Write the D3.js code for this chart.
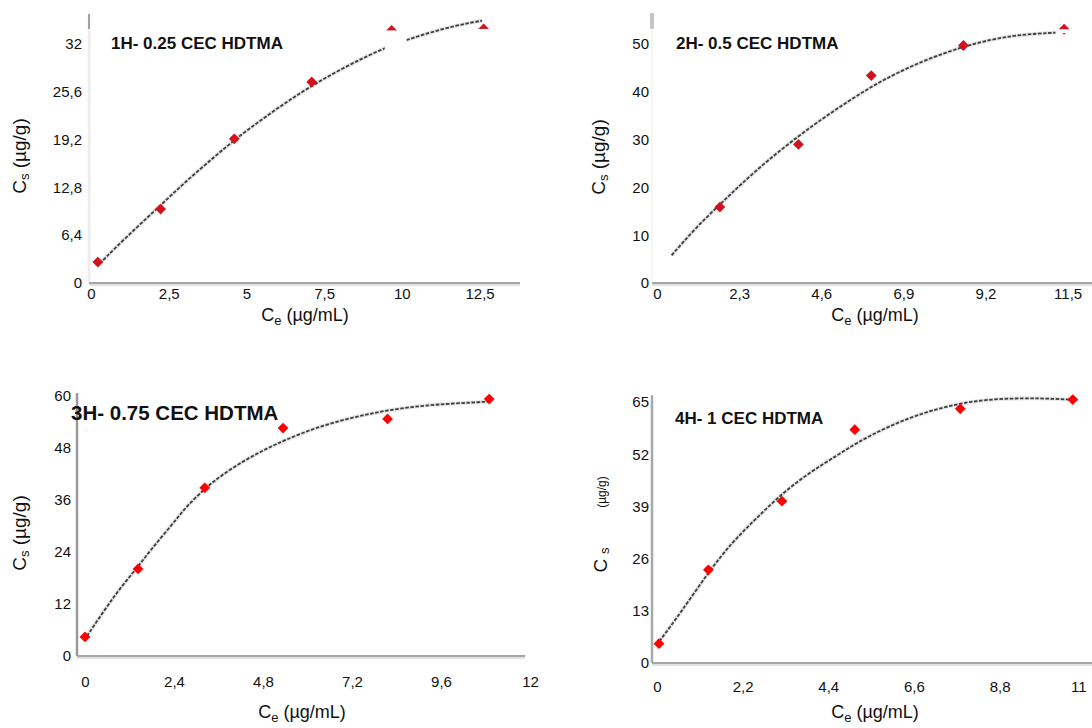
<!DOCTYPE html>
<html>
<head>
<meta charset="utf-8">
<script src="https://cdnjs.cloudflare.com/ajax/libs/d3/7.8.5/d3.min.js"></script>
<style>
  body { margin: 0; background: #fff; }
  text { font-family: "Liberation Sans", Arial, sans-serif; fill: #111; }
</style>
</head>
<body>
<div id="chart"></div>
<script>
// ---- data ----

// 1H - 0.25 CEC HDTMA
var p1X = [0.22, 2.24, 4.61, 7.1, 9.67, 12.63];
var p1Y = [2.8, 9.9, 19.3, 26.9, 33.8, 34.0];
var p1FitX = [0.28, 0.73, 1.51, 2.24, 3.0, 3.97, 4.75, 5.53, 6.32, 7.1, 7.99, 8.89, 9.7, 10.5, 11.3, 12.13, 12.58];
var p1FitY = [2.6, 4.5, 7.6, 10.4, 13.4, 16.9, 19.6, 22.0, 24.3, 26.4, 28.5, 30.4, 31.9, 33.0, 34.0, 34.8, 35.1];
var p1XTicks = [0, 2.5, 5, 7.5, 10, 12.5];
var p1XLabels = ["0", "2,5", "5", "7,5", "10", "12,5"];
var p1YTicks = [0, 6.4, 12.8, 19.2, 25.6, 32];
var p1YLabels = ["0", "6,4", "12,8", "19,2", "25,6", "32"];

// 2H - 0.5 CEC HDTMA
var p2X = [1.76, 3.96, 6.0, 8.58, 11.4];
var p2Y = [15.9, 29.0, 43.4, 49.7, 53.1];
var p2FitX = [0.41, 1.09, 1.76, 2.34, 3.12, 3.99, 4.67, 5.35, 6.03, 6.7, 7.58, 8.55, 9.32, 10.0, 10.68, 11.16];
var p2FitY = [5.8, 11.6, 16.4, 20.6, 25.8, 30.9, 34.6, 38.0, 41.2, 43.9, 46.9, 49.4, 50.9, 51.8, 52.2, 52.4];
var p2XTicks = [0, 2.3, 4.6, 6.9, 9.2, 11.5];
var p2XLabels = ["0", "2,3", "4,6", "6,9", "9,2", "11,5"];
var p2YTicks = [0, 10, 20, 30, 40, 50];
var p2YLabels = ["0", "10", "20", "30", "40", "50"];

// 3H - 0.75 CEC HDTMA
var p3X = [0.0, 1.43, 3.23, 5.34, 8.16, 10.9];
var p3Y = [4.4, 20.1, 38.8, 52.6, 54.7, 59.3];
var p3FitX = [0.05, 0.56, 0.94, 1.43, 1.78, 2.34, 2.72, 3.23, 3.66, 4.31, 4.88, 5.44, 6.19, 7.13, 8.06, 9.0, 9.94, 10.88];
var p3FitY = [4.6, 11.0, 15.6, 20.6, 24.6, 30.2, 34.4, 38.6, 41.6, 45.2, 47.8, 50.0, 52.6, 54.9, 56.6, 57.7, 58.3, 58.7];
var p3XTicks = [0, 2.4, 4.8, 7.2, 9.6, 12];
var p3XLabels = ["0", "2,4", "4,8", "7,2", "9,6", "12"];
var p3YTicks = [0, 12, 24, 36, 48, 60];
var p3YLabels = ["0", "12", "24", "36", "48", "60"];

// 4H - 1 CEC HDTMA
var p4X = [0.05, 1.32, 3.21, 5.08, 7.79, 10.68];
var p4Y = [4.8, 23.2, 40.3, 58.1, 63.3, 65.6];
var p4FitX = [0.06, 0.57, 1.32, 1.93, 2.57, 3.21, 3.94, 4.58, 5.12, 5.85, 6.67, 7.58, 8.4, 9.41, 10.23, 10.6];
var p4FitY = [5.4, 12.0, 22.6, 30.1, 36.2, 42.2, 47.6, 51.4, 54.8, 58.5, 61.8, 64.3, 65.6, 66.0, 65.8, 65.6];
var p4XTicks = [0, 2.2, 4.4, 6.6, 8.8, 11];
var p4XLabels = ["0", "2,2", "4,4", "6,6", "8,8", "11"];
var p4YTicks = [0, 13, 26, 39, 52, 65];
var p4YLabels = ["0", "13", "26", "39", "52", "65"];

var titles = ["1H- 0.25 CEC HDTMA", "2H- 0.5 CEC HDTMA", "3H- 0.75 CEC HDTMA", "4H- 1 CEC HDTMA"];

// ---- layout ----
var svgWidth = 1092;
var svgHeight = 728;

var svg = d3.select("#chart")
  .append("svg")
  .attr("width", svgWidth)
  .attr("height", svgHeight);

var panels = [
  { xs: p1X, ys: p1Y, fx: p1FitX, fy: p1FitY, xt: p1XTicks, xl: p1XLabels, yt: p1YTicks, yl: p1YLabels,
    xDom: [0, 13.8], xRange: [91, 520], yDom: [0, 36], yRange: [283, 14],
    axisX: 89, xEnd: 13.8, yTop: 36, yAxisColor: "#ececec", stub: [36, 34, "#8a8a8a", 1.5],
    xLabelY: 294, xTitleY: 321, xTitleX: 305, yTitleX: 19, yTitleY: 156, yGap: 7,
    title: { x: 111, y: 49, size: 17 }, marker: "#d3121e", masks: [[9.45, 10.15, 33.8, 30.9], [12.35, 12.9, 34.0, 33.2]] },
  { xs: p2X, ys: p2Y, fx: p2FitX, fy: p2FitY, xt: p2XTicks, xl: p2XLabels, yt: p2YTicks, yl: p2YLabels,
    xDom: [0, 12.35], xRange: [657, 1098], yDom: [0, 56.5], yRange: [283, 13],
    axisX: 652, xEnd: 12.35, yTop: 56.5, yAxisColor: "#f6f6f6", stub: [56.5, 53.2, "#c4c4c4", 4],
    xLabelY: 294, xTitleY: 321, xTitleX: 875, yTitleX: 598, yTitleY: 157, yGap: 3,
    title: { x: 676, y: 49, size: 17 }, marker: "#d3121e", masks: [[11.2, 11.65, 53.1, 52.3]] },
  { xs: p3X, ys: p3Y, fx: p3FitX, fy: p3FitY, xt: p3XTicks, xl: p3XLabels, yt: p3YTicks, yl: p3YLabels,
    xDom: [0, 12.2], xRange: [85, 537.4], yDom: [0, 60], yRange: [656, 396],
    axisX: 77, xEnd: 11.87, yTop: 60.7, yAxisColor: "#9a9a9a", stub: null,
    xLabelY: 682, xTitleY: 718, xTitleX: 302, yTitleX: 19, yTitleY: 533, yGap: 6,
    title: { x: 71, y: 420, size: 20.5 }, marker: "#ff0000", masks: [] },
  { xs: p4X, ys: p4Y, fx: p4FitX, fy: p4FitY, xt: p4XTicks, xl: p4XLabels, yt: p4YTicks, yl: p4YLabels,
    xDom: [0, 11.2], xRange: [657, 1093], yDom: [0, 65], yRange: [663, 402],
    axisX: 652, xEnd: 11.2, yTop: 66.7, yAxisColor: "#a8a8a8", stub: null,
    xLabelY: 687, xTitleY: 718, xTitleX: 875, yTitleX: null, yTitleY: 560, yGap: 3,
    title: { x: 675, y: 424, size: 17 }, marker: "#ff0000", masks: [] }
];

panels.forEach(function(p, i) {
  var g = svg.append("g");
  var x = d3.scaleLinear().domain(p.xDom).range(p.xRange);
  var y = d3.scaleLinear().domain(p.yDom).range(p.yRange);

  // axis lines
  g.append("line")
    .attr("x1", p.axisX).attr("x2", p.axisX)
    .attr("y1", y(0)).attr("y2", y(p.yTop))
    .attr("stroke", p.yAxisColor).attr("stroke-width", 2.5);
  if (p.stub) {
    g.append("line")
      .attr("x1", p.axisX).attr("x2", p.axisX)
      .attr("y1", y(p.stub[0])).attr("y2", y(p.stub[1]))
      .attr("stroke", p.stub[2]).attr("stroke-width", p.stub[3]);
  }
  g.append("line")
    .attr("x1", p.axisX).attr("x2", x(p.xEnd))
    .attr("y1", y(0) + 1).attr("y2", y(0) + 1)
    .attr("stroke", "#e2e2e2").attr("stroke-width", 4);
  g.append("line")
    .attr("x1", p.axisX).attr("x2", x(p.xEnd))
    .attr("y1", y(0)).attr("y2", y(0))
    .attr("stroke", "#a6a6a6").attr("stroke-width", 2);

  // tick labels
  var bottomAxis = d3.axisBottom(x)
    .tickValues(p.xt)
    .tickFormat(function(d, k) { return p.xl[k]; })
    .tickSize(0).tickPadding(0);
  var xg = g.append("g")
    .attr("transform", "translate(0," + p.xLabelY + ")")
    .call(bottomAxis);
  xg.select(".domain").remove();
  xg.selectAll("text")
    .attr("dy", "0.35em")
    .style("font-size", "15px")
    .attr("text-anchor", function(d) { return x(d) + 10 > svgWidth ? "end" : "middle"; })
    .attr("x", function(d) { return x(d) + 10 > svgWidth ? svgWidth - x(d) - 6 : 0; });

  var leftAxis = d3.axisLeft(y)
    .tickValues(p.yt)
    .tickFormat(function(d, k) { return p.yl[k]; })
    .tickSize(0).tickPadding(p.yGap);
  var yg = g.append("g")
    .attr("transform", "translate(" + p.axisX + ",0)")
    .call(leftAxis);
  yg.select(".domain").remove();
  yg.selectAll("text").style("font-size", "15px");

  // fitted trend line
  var line = d3.line()
    .x(function(d) { return x(d[0]); })
    .y(function(d) { return y(d[1]); })
    .curve(d3.curveBasis);
  var fit = d3.zip(p.fx, p.fy);
  g.append("path").datum(fit)
    .attr("d", line).attr("fill", "none")
    .attr("stroke", "#d6d6d6").attr("stroke-width", 4).attr("opacity", 0.6);
  g.append("path").datum(fit)
    .attr("d", line).attr("fill", "none")
    .attr("stroke", "#3c3c3c").attr("stroke-width", 1.8)
    .attr("stroke-dasharray", "3.5,1.6");

  // markers
  var pts = d3.zip(p.xs, p.ys);
  var diamond = d3.symbol().type(d3.symbolSquare).size(58);
  g.selectAll(".pt").data(pts).enter()
    .append("path")
    .attr("class", "pt")
    .attr("d", diamond)
    .attr("transform", function(d) { return "translate(" + x(d[0]) + "," + y(d[1]) + ") rotate(45)"; })
    .attr("fill", p.marker);

  // white patches that hide parts of the top markers in the original figure
  p.masks.forEach(function(m) {
    g.append("rect")
      .attr("x", x(m[0])).attr("width", x(m[1]) - x(m[0]))
      .attr("y", y(m[2])).attr("height", y(m[3]) - y(m[2]))
      .attr("fill", "#fff");
  });

  // panel title
  g.append("text")
    .attr("x", p.title.x).attr("y", p.title.y)
    .style("font-size", p.title.size + "px")
    .style("font-weight", "bold")
    .text(titles[i]);

  // x axis title
  var xt = g.append("text")
    .attr("x", p.xTitleX).attr("y", p.xTitleY)
    .attr("text-anchor", "middle")
    .style("font-size", "18px");
  xt.append("tspan").text("C");
  xt.append("tspan").attr("dy", 4).style("font-size", "13px").text("e");
  xt.append("tspan").attr("dy", -4).text(" (\u00b5g/mL)");

  // y axis title
  if (p.yTitleX !== null) {
    var yt = g.append("text")
      .attr("transform", "translate(" + p.yTitleX + "," + p.yTitleY + ") rotate(-90)")
      .attr("text-anchor", "middle")
      .attr("dy", "0.35em")
      .style("font-size", "19px");
    yt.append("tspan").text("C");
    yt.append("tspan").attr("dy", 3).style("font-size", "13px").text("s");
    yt.append("tspan").attr("dy", -3).text(" (\u00b5g/g)");
  } else {
    var yt4 = g.append("text")
      .attr("transform", "translate(600," + p.yTitleY + ") rotate(-90)")
      .attr("text-anchor", "middle")
      .attr("dy", "0.35em")
      .style("font-size", "19px");
    yt4.append("tspan").text("C");
    yt4.append("tspan").attr("dx", 5).attr("dy", 2).style("font-size", "13px").text("s");
    g.append("text")
      .attr("transform", "translate(602,492) rotate(-90)")
      .attr("text-anchor", "middle")
      .attr("dy", "0.35em")
      .style("font-size", "12px")
      .text("(\u00b5g/g)");
  }
});
</script>
</body>
</html>
